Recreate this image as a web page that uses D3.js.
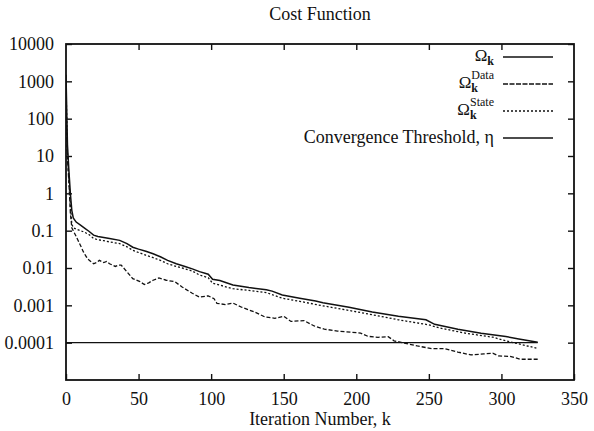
<!DOCTYPE html>
<html>
<head>
<meta charset="utf-8">
<script src="https://cdn.jsdelivr.net/npm/d3@7"></script>
<style>
  body { margin: 0; background: #fff; }
  svg text { font-family: "Liberation Serif", "Times New Roman", serif; fill: #111; }
</style>
</head>
<body>
<div id="chart"></div>
<script>
// Omega_k (total cost)
const omegaK = [0,1,2,3,4,5,7,10,13,16,19,22,26,30,37,42,46,50,55,60,65,70,76,82,87,92,98,101,106,115,126,138,142,149,161,172,177,195,211,229,248,254,270,286,303,312,325];
const omegaV = [1500,20,4,1.0,0.35,0.22,0.17,0.14,0.115,0.095,0.076,0.07,0.066,0.062,0.055,0.045,0.036,0.032,0.028,0.024,0.02,0.016,0.013,0.011,0.0095,0.008,0.0068,0.005,0.0046,0.0035,0.003,0.0026,0.0024,0.0019,0.00155,0.0013,0.00117,0.00089,0.00066,0.00051,0.00041,0.00031,0.00023,0.00018,0.000146,0.000126,0.000102];

// Omega_k^Data
const dataK = [0,1,2,3,4,5,7,10,12,14,16,19,21,23,26,28,30,34,36,38,42,46,51,54,57,60,64,69,75,80,87,92,98,102,104,110,115,121,130,137,144,150,155,164,171,178,187,197,203,208,215,222,226,233,242,252,261,270,279,288,294,298,306,313,325];
const dataV = [200,8,2,0.3,0.12,0.1,0.07,0.04,0.027,0.02,0.016,0.013,0.014,0.016,0.014,0.015,0.013,0.011,0.012,0.012,0.0079,0.0052,0.0043,0.0036,0.004,0.0047,0.0054,0.0047,0.0043,0.0031,0.0021,0.00166,0.0018,0.0015,0.00113,0.00105,0.00115,0.00089,0.00066,0.00049,0.00045,0.00051,0.00037,0.00039,0.00028,0.00023,0.000205,0.00019,0.00018,0.000148,0.000139,0.000145,0.000112,0.000098,0.000082,0.000069,0.000069,0.000056,0.000047,0.00005,0.000052,0.000044,0.000043,0.000036,0.000036];

// Omega_k^State
const stateK = [0,1,2,3,4,5,7,10,13,16,19,22,26,30,37,42,46,50,55,60,65,70,76,82,87,92,98,101,115,126,138,149,161,177,195,211,229,250,257,275,294,306,316,325];
const stateV = [800,12,2.5,0.5,0.15,0.12,0.11,0.1,0.09,0.078,0.062,0.057,0.054,0.05,0.045,0.037,0.03,0.026,0.022,0.019,0.016,0.013,0.011,0.0095,0.0083,0.0065,0.0055,0.0039,0.0028,0.0025,0.0022,0.00155,0.00128,0.00097,0.00073,0.00056,0.00041,0.0003,0.00025,0.00018,0.00014,0.000105,0.000085,0.00007];

// convergence threshold eta
const threshK = [0, 325];
const threshV = [0.0001, 0.0001];

const xTicks = [0,50,100,150,200,250,300,350];
const yTicks = [0.0001,0.001,0.01,0.1,1,10,100,1000,10000];
const yTickLabels = ["0.0001","0.001","0.01","0.1","1","10","100","1000","10000"];

let W = 594, H = 431;
let margin = {top: 44, right: 20, bottom: 51, left: 66},
    width = W - margin.left - margin.right,
    height = H - margin.top - margin.bottom;

let svg = d3.select("#chart").append("svg")
  .attr("width", W)
  .attr("height", H);

let g = svg.append("g")
  .attr("transform", `translate(${margin.left},${margin.top})`);

let x = d3.scaleLinear().domain([0, 350]).range([0, width]);
let y = d3.scaleLog().domain([1e-5, 1e4]).range([height, 0]);

svg.append("clipPath").attr("id", "plotclip")
  .append("rect").attr("width", width).attr("height", height);

// axes, gnuplot style: inward ticks, mirrored
let xAxis = d3.axisBottom(x).tickValues(xTicks).tickSize(-6).tickPadding(12);
let yAxis = d3.axisLeft(y).tickValues(yTicks).tickSize(-6).tickPadding(12)
  .tickFormat((d, i) => yTickLabels[i]);

g.append("g")
  .attr("class", "x axis")
  .attr("transform", `translate(0,${height})`)
  .call(xAxis);

g.append("g")
  .attr("class", "y axis")
  .call(yAxis);

g.append("g")
  .attr("class", "x axis2")
  .call(d3.axisTop(x).tickValues(xTicks.slice(1, -1)).tickSize(-6).tickFormat(""));

g.append("g")
  .attr("class", "y axis2")
  .attr("transform", `translate(${width},0)`)
  .call(d3.axisRight(y).tickValues(yTicks).tickSize(-6).tickFormat(""));

g.selectAll(".domain").remove();
g.selectAll(".tick line").attr("stroke", "#111").attr("stroke-width", 1.4);
g.selectAll(".tick text").style("font-size", "18px").attr("fill", "#111");

g.append("rect")
  .attr("width", width)
  .attr("height", height)
  .attr("fill", "none")
  .attr("stroke", "#111")
  .attr("stroke-width", 1.8);

let line = d3.line()
  .x((d) => x(d[0]))
  .y((d) => y(d[1]));

let series = [
  {k: omegaK, v: omegaV, dash: null, w: 1.5},
  {k: dataK, v: dataV, dash: "4,2", w: 1.3},
  {k: stateK, v: stateV, dash: "2,2", w: 1.3},
  {k: threshK, v: threshV, dash: null, w: 1.3}
];

let plot = g.append("g").attr("clip-path", "url(#plotclip)");

plot.selectAll(".curve")
  .data(series)
  .enter().append("path")
  .attr("class", "curve")
  .attr("d", (s) => line(s.k.map((k, i) => [k, s.v[i]])))
  .attr("fill", "none")
  .attr("stroke", "#111")
  .attr("stroke-width", (s) => s.w)
  .attr("stroke-dasharray", (s) => s.dash);

// title and axis label
svg.append("text")
  .attr("x", margin.left + width / 2)
  .attr("y", 20)
  .attr("text-anchor", "middle")
  .style("font-size", "18px")
  .text("Cost Function");

svg.append("text")
  .attr("x", margin.left + width / 2)
  .attr("y", 425)
  .attr("text-anchor", "middle")
  .style("font-size", "18px")
  .text("Iteration Number, k");

// legend
let legendRows = [
  {sup: null, label: null, dash: null, y: 57},
  {sup: "Data", label: null, dash: "5,1.5", y: 84},
  {sup: "State", label: null, dash: "2,2", y: 111},
  {sup: null, label: "Convergence Threshold, \u03b7", dash: null, y: 138}
];

let legend = svg.append("g").attr("class", "legend");

legendRows.forEach((r) => {
  legend.append("line")
    .attr("x1", 503).attr("x2", 553)
    .attr("y1", r.y).attr("y2", r.y)
    .attr("stroke", "#111")
    .attr("stroke-width", 1.3)
    .attr("stroke-dasharray", r.dash);

  if (r.label) {
    legend.append("text")
      .attr("x", 494)
      .attr("y", r.y + 5)
      .attr("text-anchor", "end")
      .style("font-size", "18px")
      .text(r.label);
    return;
  }

  // Omega with subscript k, optional superscript, as separate small texts
  let sub = legend.append("text")
    .attr("x", 494)
    .attr("y", r.y + 8)
    .attr("text-anchor", "end")
    .style("font-size", "12px")
    .style("font-weight", "bold")
    .text("k");
  let subW = sub.node().getComputedTextLength();
  let supW = 0;
  if (r.sup) {
    let sup = legend.append("text")
      .attr("x", 494 - subW - 0.5)
      .attr("y", r.y - 5)
      .attr("text-anchor", "start")
      .style("font-size", "12px")
      .text(r.sup);
    supW = sup.node().getComputedTextLength();
    // keep the superscript's right edge at the anchor
    sup.attr("x", 494 - supW);
    sub.attr("x", 494 - supW + subW);
  }
  let omegaX = r.sup ? 494 - supW : 494 - subW;
  legend.append("text")
    .attr("x", omegaX)
    .attr("y", r.y + 4)
    .attr("text-anchor", "end")
    .style("font-size", "17px")
    .text("\u03a9");
});
</script>
</body>
</html>
